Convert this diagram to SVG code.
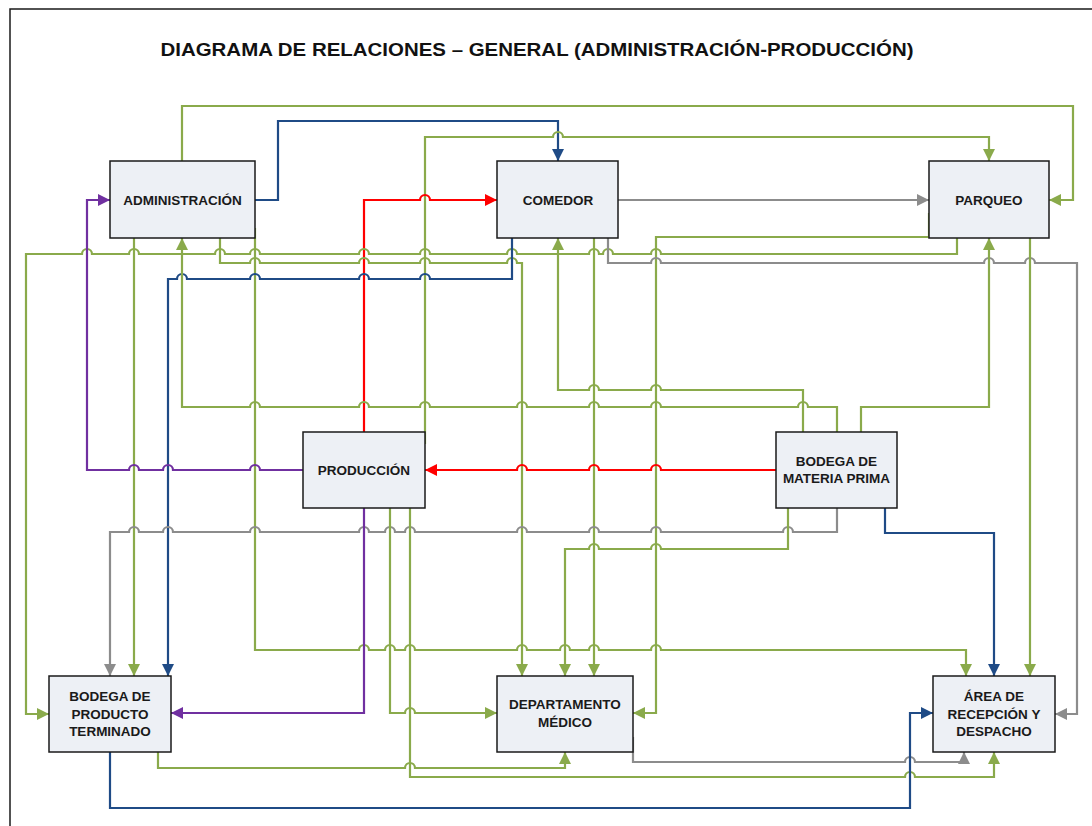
<svg xmlns="http://www.w3.org/2000/svg" width="1092" height="826" viewBox="0 0 1092 826">
<style>
.box{fill:#EDF0F5;stroke:#1a1a1a;stroke-width:1.5}
.lbl{font-family:"Liberation Sans",Arial,sans-serif;font-weight:bold;font-size:13.5px;fill:#1a1a1a;text-anchor:middle}
.c{fill:none;stroke-width:2.2;stroke-linejoin:miter}
.g{stroke:#8AAA4B}
.b{stroke:#1F4B86}
.r{stroke:#FF0000}
.p{stroke:#7030A0}
.y{stroke:#8C8C8C}
</style>
<defs>
<marker id="mg" viewBox="0 0 10 10" refX="10" refY="5" markerWidth="12" markerHeight="12" markerUnits="userSpaceOnUse" orient="auto"><path d="M0,0 L10,5 L0,10 z" fill="#8AAA4B"/></marker>
<marker id="mb" viewBox="0 0 10 10" refX="10" refY="5" markerWidth="12" markerHeight="12" markerUnits="userSpaceOnUse" orient="auto"><path d="M0,0 L10,5 L0,10 z" fill="#1F4B86"/></marker>
<marker id="mr" viewBox="0 0 10 10" refX="10" refY="5" markerWidth="12" markerHeight="12" markerUnits="userSpaceOnUse" orient="auto"><path d="M0,0 L10,5 L0,10 z" fill="#FF0000"/></marker>
<marker id="mp" viewBox="0 0 10 10" refX="10" refY="5" markerWidth="12" markerHeight="12" markerUnits="userSpaceOnUse" orient="auto"><path d="M0,0 L10,5 L0,10 z" fill="#7030A0"/></marker>
<marker id="my" viewBox="0 0 10 10" refX="10" refY="5" markerWidth="12" markerHeight="12" markerUnits="userSpaceOnUse" orient="auto"><path d="M0,0 L10,5 L0,10 z" fill="#8C8C8C"/></marker>
</defs>
<rect x="0" y="0" width="1092" height="826" fill="#ffffff"/>
<path d="M10,826 V9 H1092" fill="none" stroke="#1a1a1a" stroke-width="1.5"/>
<text x="537" y="56" font-family="Liberation Sans, Arial, sans-serif" font-weight="bold" font-size="17.5" fill="#111" text-anchor="middle" textLength="753" lengthAdjust="spacingAndGlyphs">DIAGRAMA DE RELACIONES – GENERAL (ADMINISTRACIÓN-PRODUCCIÓN)</text>
<g id="connectors">
<path class="c g" marker-end="url(#mg)" d="M182,161 V106 H1073 V200 H1049"/>
<path class="c b" marker-end="url(#mb)" d="M255,200 H278 V121 H558 V161"/>
<path class="c g" marker-end="url(#mg)" d="M425,444 V137 H553 a5,5 0 0 1 10,0 H989 V161"/>
<path class="c r" marker-end="url(#mr)" d="M364,432 V200 H420 a5,5 0 0 1 10,0 H497"/>
<path class="c y" marker-end="url(#my)" d="M618,200 H929"/>
<path class="c g" marker-end="url(#mg)" d="M957,238 V254 H661 a5,5 0 0 0 -10,0 H613 a5,5 0 0 0 -10,0 H599 a5,5 0 0 0 -10,0 H517 a5,5 0 0 0 -10,0 H430 a5,5 0 0 0 -10,0 H369 a5,5 0 0 0 -10,0 H260 a5,5 0 0 0 -10,0 H225 a5,5 0 0 0 -10,0 H139 a5,5 0 0 0 -10,0 H92 a5,5 0 0 0 -10,0 H26 V714 H49"/>
<path class="c g" marker-end="url(#mg)" d="M929,213 V237 H656 V713 H633"/>
<path class="c g" marker-end="url(#mg)" d="M594,238 V676"/>
<path class="c y" marker-end="url(#my)" d="M608,238 V263 H651 a5,5 0 0 1 10,0 H984 a5,5 0 0 1 10,0 H1025 a5,5 0 0 1 10,0 H1077 V714 H1055"/>
<path class="c g" marker-end="url(#mg)" d="M134,238 V676"/>
<path class="c g" marker-end="url(#mg)" d="M220,238 V263 H250 a5,5 0 0 1 10,0 H359 a5,5 0 0 1 10,0 H420 a5,5 0 0 1 10,0 H507 a5,5 0 0 1 10,0 H522 V676"/>
<path class="c g" marker-end="url(#mg)" d="M255,228 V650 H359 a5,5 0 0 1 10,0 H385 a5,5 0 0 1 10,0 H405 a5,5 0 0 1 10,0 H517 a5,5 0 0 1 10,0 H560 a5,5 0 0 1 10,0 H589 a5,5 0 0 1 10,0 H651 a5,5 0 0 1 10,0 H966 V676"/>
<path class="c b" marker-end="url(#mb)" d="M512,238 V279 H430 a5,5 0 0 0 -10,0 H369 a5,5 0 0 0 -10,0 H260 a5,5 0 0 0 -10,0 H187 a5,5 0 0 0 -10,0 H168 V676"/>
<path class="c p" marker-end="url(#mp)" d="M303,470 H260 a5,5 0 0 0 -10,0 H173 a5,5 0 0 0 -10,0 H139 a5,5 0 0 0 -10,0 H87 V200 H110"/>
<path class="c g" marker-end="url(#mg)" d="M837,432 V407 H808 a5,5 0 0 0 -10,0 H661 a5,5 0 0 0 -10,0 H599 a5,5 0 0 0 -10,0 H527 a5,5 0 0 0 -10,0 H430 a5,5 0 0 0 -10,0 H369 a5,5 0 0 0 -10,0 H260 a5,5 0 0 0 -10,0 H182 V238"/>
<path class="c g" marker-end="url(#mg)" d="M803,432 V390 H661 a5,5 0 0 0 -10,0 H599 a5,5 0 0 0 -10,0 H558 V238"/>
<path class="c g" marker-end="url(#mg)" d="M861,432 V407 H989 V238"/>
<path class="c g" marker-end="url(#mg)" d="M1030,238 V676"/>
<path class="c r" marker-end="url(#mr)" d="M776,470 H661 a5,5 0 0 0 -10,0 H599 a5,5 0 0 0 -10,0 H527 a5,5 0 0 0 -10,0 H425"/>
<path class="c y" marker-end="url(#my)" d="M837,508 V532 H793 a5,5 0 0 0 -10,0 H661 a5,5 0 0 0 -10,0 H599 a5,5 0 0 0 -10,0 H527 a5,5 0 0 0 -10,0 H415 a5,5 0 0 0 -10,0 H395 a5,5 0 0 0 -10,0 H369 a5,5 0 0 0 -10,0 H260 a5,5 0 0 0 -10,0 H173 a5,5 0 0 0 -10,0 H139 a5,5 0 0 0 -10,0 H110 V676"/>
<path class="c g" marker-end="url(#mg)" d="M788,508 V549 H661 a5,5 0 0 0 -10,0 H599 a5,5 0 0 0 -10,0 H565 V676"/>
<path class="c b" marker-end="url(#mb)" d="M885,508 V533 H994 V676"/>
<path class="c p" marker-end="url(#mp)" d="M364,508 V713 H171"/>
<path class="c g" marker-end="url(#mg)" d="M390,508 V713 H405 a5,5 0 0 1 10,0 H497"/>
<path class="c g" marker-end="url(#mg)" d="M410,508 V777 H905 a5,5 0 0 1 10,0 H994 V752"/>
<path class="c y" marker-end="url(#my)" d="M633,737 V762 H905 a5,5 0 0 1 10,0 H964 V752"/>
<path class="c g" marker-end="url(#mg)" d="M158,752 V768 H405 a5,5 0 0 1 10,0 H565 V752"/>
<path class="c b" marker-end="url(#mb)" d="M110,752 V808 H910 V713 H933"/>
</g>
<g id="admin"><rect class="box" x="110" y="161" width="145" height="77"/><text class="lbl" x="182.5" y="205">ADMINISTRACIÓN</text></g>
<g id="comedor"><rect class="box" x="497" y="161" width="121" height="77"/><text class="lbl" x="558" y="205">COMEDOR</text></g>
<g id="parqueo"><rect class="box" x="929" y="161" width="120" height="77"/><text class="lbl" x="989" y="205">PARQUEO</text></g>
<g id="produccion"><rect class="box" x="303" y="432" width="122" height="76"/><text class="lbl" x="364" y="475">PRODUCCIÓN</text></g>
<g id="bodega-mp"><rect class="box" x="776" y="432" width="121" height="76"/><text class="lbl" x="836.5" y="466">BODEGA DE</text><text class="lbl" x="836.5" y="483">MATERIA PRIMA</text></g>
<g id="bodega-pt"><rect class="box" x="49" y="676" width="122" height="76"/><text class="lbl" x="110" y="701">BODEGA DE</text><text class="lbl" x="110" y="718.5">PRODUCTO</text><text class="lbl" x="110" y="736">TERMINADO</text></g>
<g id="dept-medico"><rect class="box" x="497" y="676" width="136" height="76"/><text class="lbl" x="565" y="709">DEPARTAMENTO</text><text class="lbl" x="565" y="727">MÉDICO</text></g>
<g id="area-recepcion"><rect class="box" x="933" y="676" width="122" height="76"/><text class="lbl" x="994" y="701">ÁREA DE</text><text class="lbl" x="994" y="718.5">RECEPCIÓN Y</text><text class="lbl" x="994" y="736">DESPACHO</text></g>
</svg>
